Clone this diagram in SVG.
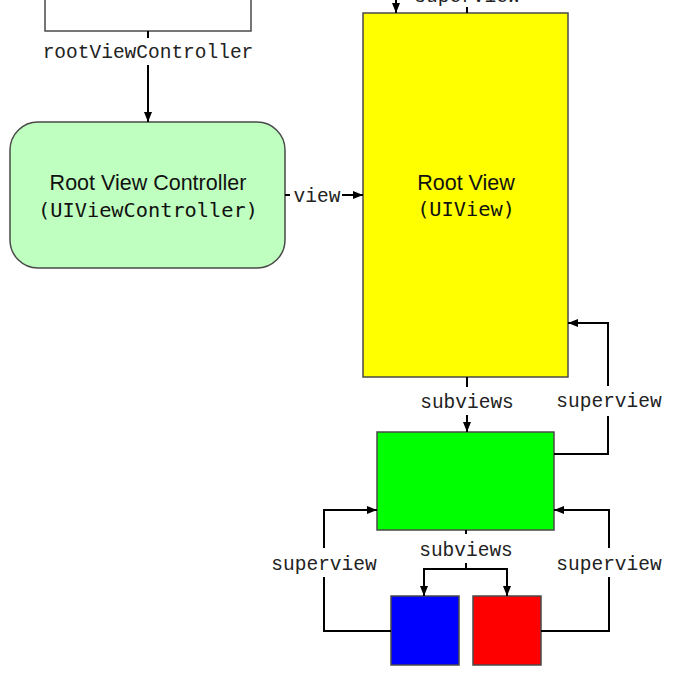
<svg xmlns="http://www.w3.org/2000/svg" width="697" height="683" viewBox="0 0 697 683">
<style>
.box{stroke:#4a4a4a;stroke-width:1.5}
.c{fill:none;stroke:#000;stroke-width:2}
.lbl{font-family:"Liberation Mono",monospace;font-size:19.5px;fill:#222;text-anchor:middle}
.t1{font-family:"Liberation Sans",Arial,sans-serif;font-size:21.5px;fill:#111;text-anchor:middle}
.t2{font-family:"DejaVu Sans Mono",monospace;font-size:20.3px;fill:#111;text-anchor:middle}
</style>
<defs>
<marker id="ah" viewBox="0 0 10 8" refX="10" refY="4" markerWidth="10" markerHeight="8" markerUnits="userSpaceOnUse" orient="auto">
<path d="M0,0 L10,4 L0,8 z" fill="#000"/>
</marker>
</defs>
<rect width="697" height="683" fill="#fff"/>
<g id="window">
<rect class="box" x="45" y="-20" width="206" height="51" fill="#fff"/>
</g>
<g id="rootViewController">
<rect class="box" x="10" y="122" width="275" height="146" rx="28" ry="28" fill="#bfffbf"/>
<text class="t1" x="148" y="190">Root View Controller</text>
<text class="t2" x="148" y="217">(UIViewController)</text>
</g>
<g id="rootView">
<rect class="box" x="363" y="13" width="205" height="364" fill="#ffff00"/>
<text class="t1" x="466" y="190">Root View</text>
<text class="t2" x="466" y="216">(UIView)</text>
</g>
<g id="greenView">
<rect class="box" x="377" y="432" width="177" height="98" fill="#00ff00"/>
</g>
<g id="blueView">
<rect class="box" x="391" y="596" width="68" height="69" fill="#0000ff"/>
</g>
<g id="redView">
<rect class="box" x="473" y="596" width="68" height="69" fill="#ff0000"/>
</g>
<g id="connectors">
<path class="c" d="M148,31 V38"/>
<path class="c" d="M148,65 V122" marker-end="url(#ah)"/>
<path class="c" d="M285,195 H290"/>
<path class="c" d="M342,195 H363" marker-end="url(#ah)"/>
<path class="c" d="M396,-5 V13" marker-end="url(#ah)"/>
<path class="c" d="M467,13 V7"/>
<path class="c" d="M467,377 V387"/>
<path class="c" d="M467,415 V432" marker-end="url(#ah)"/>
<path class="c" d="M554,454 H608 V416"/>
<path class="c" d="M608,386 V323 H568" marker-end="url(#ah)"/>
<path class="c" d="M466,530 V534"/>
<path class="c" d="M466,563 V569"/>
<path class="c" d="M466,569 H424 V596" marker-end="url(#ah)"/>
<path class="c" d="M466,569 H507 V596" marker-end="url(#ah)"/>
<path class="c" d="M391,631 H324 V577"/>
<path class="c" d="M324,548 V510 H377" marker-end="url(#ah)"/>
<path class="c" d="M541,631 H609 V577"/>
<path class="c" d="M609,548 V510 H554" marker-end="url(#ah)"/>
</g>
<g id="labels">
<text class="lbl" x="148" y="58">rootViewController</text>
<text class="lbl" x="317" y="202">view</text>
<text class="lbl" x="467" y="2">superview</text>
<text class="lbl" x="467" y="408">subviews</text>
<text class="lbl" x="609" y="407">superview</text>
<text class="lbl" x="466" y="556">subviews</text>
<text class="lbl" x="324" y="570">superview</text>
<text class="lbl" x="609" y="570">superview</text>
</g>
</svg>
